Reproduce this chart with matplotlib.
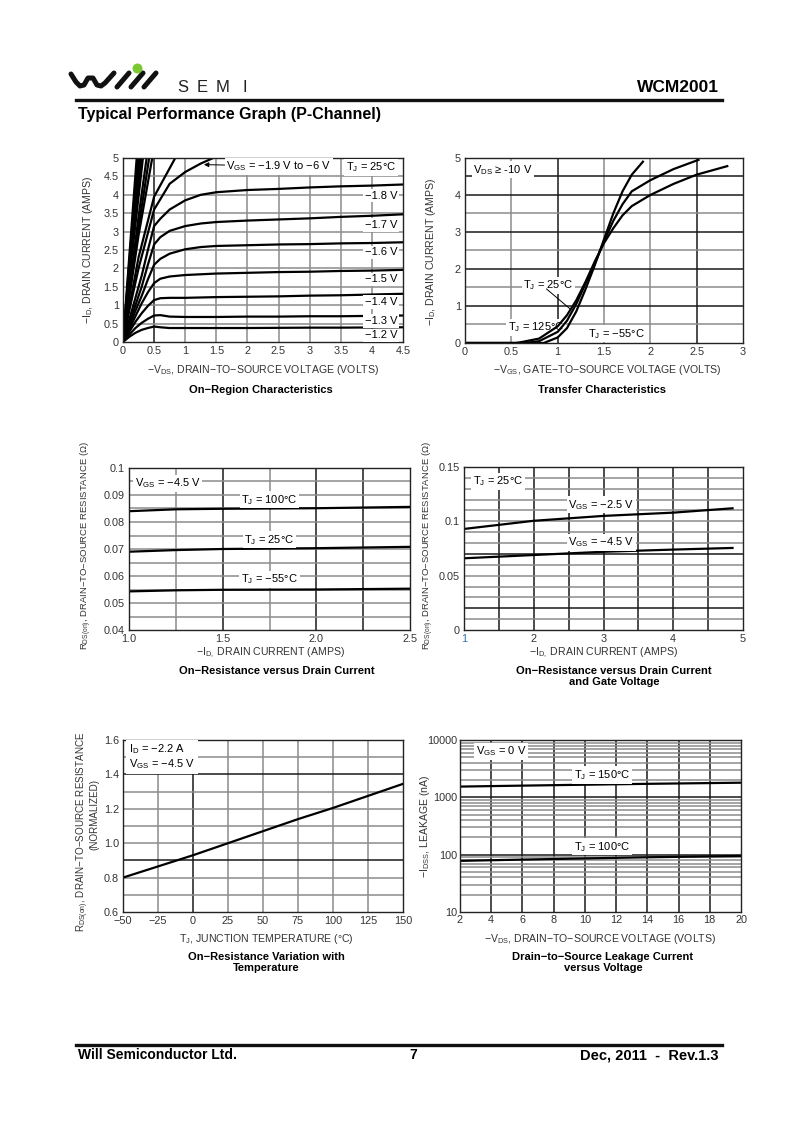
import matplotlib
matplotlib.use('Agg')
import matplotlib.pyplot as plt
from matplotlib import font_manager
import numpy as np

names = {f.name for f in font_manager.fontManager.ttflist}
NARROW = 'Liberation Sans Narrow' if 'Liberation Sans Narrow' in names else 'Liberation Sans'
plt.rcParams['font.family'] = ['Liberation Sans', 'DejaVu Sans']
plt.rcParams['mathtext.fontset'] = 'custom'
plt.rcParams['mathtext.rm'] = 'Liberation Sans'
plt.rcParams['mathtext.it'] = 'Liberation Sans:italic'
plt.rcParams['mathtext.bf'] = 'Liberation Sans:bold'

# ---- data: on-region characteristics (-VDS vs -ID) ----
vds = [0, 0.1, 0.2, 0.3, 0.4, 0.5, 0.6, 0.75, 1.0, 1.25, 1.5, 2.0, 2.5, 3.0, 3.5, 4.0, 4.5]
id_12 = [0, 0.14, 0.25, 0.33, 0.38, 0.42, 0.40, 0.38, 0.38, 0.38, 0.38, 0.38, 0.385, 0.39, 0.39, 0.395, 0.40]
id_13 = [0, 0.20, 0.38, 0.52, 0.63, 0.72, 0.73, 0.69, 0.68, 0.68, 0.68, 0.69, 0.69, 0.70, 0.70, 0.71, 0.72]
id_14 = [0, 0.28, 0.55, 0.78, 0.98, 1.14, 1.19, 1.20, 1.20, 1.21, 1.22, 1.23, 1.24, 1.26, 1.27, 1.29, 1.31]
id_15 = [0, 0.35, 0.70, 1.05, 1.35, 1.60, 1.72, 1.78, 1.82, 1.84, 1.86, 1.88, 1.90, 1.91, 1.93, 1.94, 1.96]
id_16 = [0, 0.42, 0.85, 1.25, 1.70, 2.10, 2.26, 2.40, 2.52, 2.58, 2.61, 2.63, 2.65, 2.66, 2.68, 2.69, 2.71]
id_17 = [0, 0.50, 1.00, 1.50, 2.10, 2.65, 2.85, 3.02, 3.15, 3.22, 3.26, 3.30, 3.33, 3.36, 3.40, 3.43, 3.47]
id_18 = [0, 0.60, 1.20, 1.80, 2.50, 3.15, 3.35, 3.60, 3.85, 4.00, 4.07, 4.13, 4.16, 4.20, 4.23, 4.25, 4.28]
sat_curves = [id_12, id_13, id_14, id_15, id_16, id_17, id_18]
sat_labels = ['−1.2 V', '−1.3 V', '−1.4 V', '−1.5 V', '−1.6 V', '−1.7 V', '−1.8 V']
sat_label_y = [0.18, 0.57, 1.09, 1.70, 2.44, 3.18, 3.98]

vds_19 = [0, 0.1, 0.25, 0.5, 0.75, 1.0, 1.25, 1.45]
id_19 = [0, 0.85, 2.0, 3.6, 4.3, 4.62, 4.85, 5.0]
steep_x = [[0, 0.1, 0.25, 0.5, 0.84],
           [0, 0.1, 0.25, 0.47],
           [0, 0.1, 0.25, 0.42],
           [0, 0.1, 0.25, 0.38],
           [0, 0.1, 0.32], [0, 0.1, 0.30], [0, 0.1, 0.28],
           [0, 0.1, 0.26], [0, 0.1, 0.24], [0, 0.1, 0.22]]
steep_y = [[0, 0.95, 2.3, 3.95, 5.0],
           [0, 1.2, 2.9, 5.0],
           [0, 1.3, 3.1, 5.0],
           [0, 1.4, 3.4, 5.0],
           [0, 1.7, 5.0], [0, 1.8, 5.0], [0, 1.9, 5.0],
           [0, 2.0, 5.0], [0, 2.15, 5.0], [0, 2.3, 5.0]]

# ---- data: transfer characteristics ----
vgs_125 = [0, 0.55, 0.6, 0.8, 1.0, 1.1, 1.2, 1.3, 1.4, 1.5, 1.6, 1.7, 1.8, 2.0, 2.25, 2.5, 2.83]
id_125 = [0, 0, 0.02, 0.12, 0.45, 0.75, 1.15, 1.65, 2.2, 2.7, 3.1, 3.45, 3.7, 4.0, 4.3, 4.55, 4.78]
vgs_25 = [0, 0.65, 0.8, 1.0, 1.1, 1.2, 1.3, 1.4, 1.5, 1.6, 1.7, 1.8, 2.0, 2.25, 2.52]
id_25 = [0, 0, 0.05, 0.3, 0.6, 1.05, 1.6, 2.15, 2.75, 3.3, 3.75, 4.1, 4.4, 4.7, 4.95]
vgs_m55 = [0, 0.85, 1.0, 1.1, 1.2, 1.3, 1.4, 1.5, 1.6, 1.7, 1.8, 1.92]
id_m55 = [0, 0, 0.15, 0.4, 0.85, 1.45, 2.1, 2.8, 3.5, 4.1, 4.55, 4.9]

# ---- data: on-resistance vs drain current (temperature) ----
id_r = [1.0, 1.25, 1.5, 2.0, 2.5]
r_100 = [0.0840, 0.0847, 0.0849, 0.0851, 0.0856]
r_25 = [0.0690, 0.0696, 0.0700, 0.0703, 0.0708]
r_m55 = [0.0543, 0.0547, 0.0549, 0.0550, 0.0553]

# ---- data: on-resistance vs drain current and gate voltage ----
id_g = [1, 2, 3, 4, 4.85]
r_vgs25 = [0.093, 0.1005, 0.105, 0.108, 0.112]
r_vgs45 = [0.066, 0.069, 0.072, 0.074, 0.0755]

# ---- data: normalized on-resistance vs temperature ----
tj = [-50, -25, 0, 25, 50, 75, 100, 125, 150]
rn = [0.80, 0.865, 0.93, 1.0, 1.07, 1.14, 1.205, 1.275, 1.345]

# ---- data: leakage vs voltage ----
vds_l = [2, 6, 10, 14, 20]
idss_150 = [1540, 1600, 1660, 1720, 1800]
idss_100 = [78, 82, 86, 90, 95]

W, H = 800, 1132
fig = plt.figure(figsize=(W / 100, H / 100), dpi=100)

# page overlay in pixel coordinates (header, footer, logo)
pg = fig.add_axes([0, 0, 1, 1])
pg.set_xlim(0, W)
pg.set_ylim(H, 0)
pg.axis('off')

wave_x = [71, 76, 80, 84, 88, 93, 97, 101, 105, 114]
wave_y = [74, 82, 86, 85, 78, 78, 85, 86, 83, 73]
pg.plot(wave_x, wave_y, color='#111', lw=3.6, solid_capstyle='round', solid_joinstyle='round')
for sx in (117, 131, 144):
    pg.plot([sx, sx + 12], [87, 73], color='#111', lw=3.6, solid_capstyle='round')
pg.scatter([137], [68], s=38, color='#7cc832', zorder=5)
for ch, x in zip('SEMI', [177, 197, 216, 242]):
    pg.text(x, 87, ch, fontsize=12, color='#222', va='center', ha='left')
pg.text(719, 88, 'WCM2001', fontsize=12.5, fontweight='bold', family=NARROW, ha='right', va='center')
pg.plot([76, 722], [99.5, 99.5], color='#111', lw=2.4)
pg.text(78, 114, 'Typical Performance Graph (P-Channel)', fontsize=11.5, fontweight='bold',
        family=NARROW, ha='left', va='center')
pg.plot([76, 722], [1044.5, 1044.5], color='#111', lw=2.4)
pg.text(78, 1055, 'Will Semiconductor Ltd.', fontsize=10, fontweight='bold', family=NARROW, va='center')
pg.text(413, 1055, '7', fontsize=10, fontweight='bold', family=NARROW, va='center', ha='center')
pg.text(718, 1055, 'Dec, 2011  -  Rev.1.3', fontsize=10.5, fontweight='bold', family=NARROW,
        va='center', ha='right')

GRAY = '#8c8c8c'
DARK = '#1a1a1a'
WB = dict(facecolor='white', edgecolor='none', pad=1.2)


def panel(l, t, r, b, xlim, ylim, xticks, xlabels, yticks, ylabels,
          vgrid, hgrid, dark_v=(), dark_h=(), logy=False):
    ax = fig.add_axes([l / W, 1 - b / H, (r - l) / W, (b - t) / H])
    if logy:
        ax.set_yscale('log')
    ax.set_xlim(xlim)
    ax.set_ylim(ylim)
    for v in vgrid:
        dk = any(np.isclose(v, d) for d in dark_v)
        ax.axvline(v, color=DARK if dk else GRAY, lw=1.1, zorder=1)
    for h in hgrid:
        dk = any(np.isclose(h, d) for d in dark_h)
        ax.axhline(h, color=DARK if dk else GRAY, lw=1.1, zorder=1)
    ax.set_xticks(xticks, xlabels)
    ax.set_yticks(yticks, ylabels)
    ax.minorticks_off()
    ax.tick_params(length=0, labelsize=7.8, labelcolor='#333', pad=3)
    for s in ax.spines.values():
        s.set_color('#222')
        s.set_linewidth(1.0)
    return ax


def fig_label(x, y, s, rot=0, size=7.6, **kw):
    pg.text(x, y, s, fontsize=size, color='#333', ha='center', va='center', rotation=rot, **kw)


def caption(x, y, s):
    pg.text(x, y, s, fontsize=8, fontweight='bold', ha='center', va='top', linespacing=1.15)


LW = 1.6

# ---------- 1: on-region ----------
ax1 = panel(123, 158, 403, 342, (0, 4.5), (0, 5),
            [0, 0.5, 1, 1.5, 2, 2.5, 3, 3.5, 4, 4.5],
            ['0', '0.5', '1', '1.5', '2', '2.5', '3', '3.5', '4', '4.5'],
            [0, 0.5, 1, 1.5, 2, 2.5, 3, 3.5, 4, 4.5, 5],
            ['0', '0.5', '1', '1.5', '2', '2.5', '3', '3.5', '4', '4.5', '5'],
            [0.5, 1, 1.5, 2, 2.5, 3, 3.5, 4], [0.5, 1, 1.5, 2, 2.5, 3, 3.5, 4, 4.5],
            dark_v=(0.5,))
for cur in sat_curves:
    ax1.plot(vds, cur, color='k', lw=LW, zorder=2)
ax1.plot(vds_19, id_19, color='k', lw=LW, zorder=2)
for xs, ys in zip(steep_x, steep_y):
    ax1.plot(xs, ys, color='k', lw=LW, zorder=2)
for lab, y in zip(sat_labels, sat_label_y):
    ax1.text(4.15, y, lab, fontsize=8, ha='center', va='center', bbox=WB, zorder=3)
ax1.text(3.99, 4.75, 'T$_\\mathrm{J}$ = 25°C', fontsize=8, ha='center', va='center', bbox=WB, zorder=3)
ax1.annotate('V$_\\mathrm{GS}$ = −1.9 V to −6 V', xy=(1.3, 4.82), xytext=(1.66, 4.78),
             fontsize=8, ha='left', va='center', bbox=WB, zorder=3,
             arrowprops=dict(arrowstyle='-|>', color='k', lw=0.7, mutation_scale=7,
                             shrinkA=0, shrinkB=0))
fig_label(263, 370, '−V$_\\mathrm{DS}$, DRAIN−TO−SOURCE VOLTAGE (VOLTS)')
fig_label(88, 250, '−I$_\\mathrm{D}$, DRAIN CURRENT (AMPS)', rot=90)
caption(261, 385, 'On−Region Characteristics')

# ---------- 2: transfer ----------
ax2 = panel(465, 158, 743, 343, (0, 3), (0, 5),
            [0, 0.5, 1, 1.5, 2, 2.5, 3], ['0', '0.5', '1', '1.5', '2', '2.5', '3'],
            [0, 1, 2, 3, 4, 5], ['0', '1', '2', '3', '4', '5'],
            [0.5, 1, 1.5, 2, 2.5], [0.5, 1, 1.5, 2, 2.5, 3, 3.5, 4, 4.5],
            dark_v=(1, 2.5), dark_h=(1, 2, 3, 4, 4.5))
ax2.text(0.09, 4.68, 'V$_\\mathrm{DS}$ ≥ -10 V', fontsize=8, ha='left', va='center', bbox=WB, zorder=3)
ax2.text(0.63, 1.56, 'T$_\\mathrm{J}$ = 25°C', fontsize=8, ha='left', va='center', bbox=WB, zorder=1.5)
ax2.text(0.46, 0.43, 'T$_\\mathrm{J}$ = 125°C', fontsize=8, ha='left', va='center', bbox=WB, zorder=1.5)
ax2.text(1.33, 0.25, 'T$_\\mathrm{J}$ = −55°C', fontsize=8, ha='left', va='center', bbox=WB, zorder=1.5)
ax2.plot([0.88, 1.13], [1.46, 0.93], color='k', lw=0.7, zorder=2)
ax2.plot(vgs_125, id_125, color='k', lw=LW, zorder=2)
ax2.plot(vgs_25, id_25, color='k', lw=LW, zorder=2)
ax2.plot(vgs_m55, id_m55, color='k', lw=LW, zorder=2)
fig_label(607, 370, '−V$_\\mathrm{GS}$, GATE−TO−SOURCE VOLTAGE (VOLTS)')
fig_label(431, 252, '−I$_\\mathrm{D}$, DRAIN CURRENT (AMPS)', rot=90)
caption(602, 385, 'Transfer Characteristics')

# ---------- 3: RDS(on) vs ID, temperature ----------
ax3 = panel(129, 468, 410, 630, (1.0, 2.5), (0.04, 0.1),
            [1.0, 1.5, 2.0, 2.5], ['1.0', '1.5', '2.0', '2.5'],
            [0.04, 0.05, 0.06, 0.07, 0.08, 0.09, 0.1],
            ['0.04', '0.05', '0.06', '0.07', '0.08', '0.09', '0.1'],
            [1.25, 1.5, 1.75, 2.0, 2.25],
            [0.045, 0.05, 0.055, 0.06, 0.065, 0.07, 0.075, 0.08, 0.085, 0.09, 0.095],
            dark_v=(1.5, 2.0, 2.25))
ax3.plot(id_r, r_100, color='k', lw=LW, zorder=2)
ax3.plot(id_r, r_25, color='k', lw=LW, zorder=2)
ax3.plot(id_r, r_m55, color='k', lw=LW, zorder=2)
ax3.text(1.03, 0.0944, 'V$_\\mathrm{GS}$ = −4.5 V', fontsize=8, ha='left', va='center', bbox=WB, zorder=3)
ax3.text(1.75, 0.0882, 'T$_\\mathrm{J}$ = 100°C', fontsize=8, ha='center', va='center', bbox=WB, zorder=3)
ax3.text(1.75, 0.0734, 'T$_\\mathrm{J}$ = 25°C', fontsize=8, ha='center', va='center', bbox=WB, zorder=3)
ax3.text(1.75, 0.0588, 'T$_\\mathrm{J}$ = −55°C', fontsize=8, ha='center', va='center', bbox=WB, zorder=3)
fig_label(270, 653, '−I$_\\mathrm{D,}$ DRAIN CURRENT (AMPS)')
fig_label(86, 546, 'R$_\\mathrm{DS(on)}$, DRAIN−TO−SOURCE RESISTANCE (Ω)', rot=90, size=6.8)
caption(277, 666, 'On−Resistance versus Drain Current')

# ---------- 4: RDS(on) vs ID, gate voltage ----------
ax4 = panel(464, 467, 743, 630, (1, 5), (0, 0.15),
            [1, 2, 3, 4, 5], ['1', '2', '3', '4', '5'],
            [0, 0.05, 0.1, 0.15], ['0', '0.05', '0.1', '0.15'],
            [1.5, 2, 2.5, 3, 3.5, 4, 4.5],
            [0.01, 0.02, 0.03, 0.04, 0.05, 0.06, 0.07, 0.08, 0.09, 0.1, 0.11, 0.12, 0.13, 0.14],
            dark_v=(1.5, 2, 2.5, 3, 3.5, 4, 4.5), dark_h=(0.02, 0.07))
ax4.get_xticklabels()[0].set_color('#2f6db5')
ax4.plot(id_g, r_vgs25, color='k', lw=LW, zorder=2)
ax4.plot(id_g, r_vgs45, color='k', lw=LW, zorder=2)
ax4.text(1.13, 0.137, 'T$_\\mathrm{J}$ = 25°C', fontsize=8, ha='left', va='center', bbox=WB, zorder=3)
ax4.text(2.97, 0.1153, 'V$_\\mathrm{GS}$ = −2.5 V', fontsize=8, ha='center', va='center', bbox=WB, zorder=3)
ax4.text(2.97, 0.0805, 'V$_\\mathrm{GS}$ = −4.5 V', fontsize=8, ha='center', va='center', bbox=WB, zorder=3)
fig_label(603, 653, '−I$_\\mathrm{D,}$ DRAIN CURRENT (AMPS)')
fig_label(428, 546, 'R$_\\mathrm{DS(on)}$, DRAIN−TO−SOURCE RESISTANCE (Ω)', rot=90, size=6.8)
caption(614, 666, 'On−Resistance versus Drain Current\nand Gate Voltage')

# ---------- 5: normalized RDS(on) vs TJ ----------
ax5 = panel(123, 740, 403, 912, (-50, 150), (0.6, 1.6),
            [-50, -25, 0, 25, 50, 75, 100, 125, 150],
            ['−50', '−25', '0', '25', '50', '75', '100', '125', '150'],
            [0.6, 0.8, 1.0, 1.2, 1.4, 1.6], ['0.6', '0.8', '1.0', '1.2', '1.4', '1.6'],
            [-25, 0, 25, 50, 75, 100, 125],
            [0.7, 0.8, 0.9, 1.0, 1.1, 1.2, 1.3, 1.4, 1.5],
            dark_v=(0,), dark_h=(0.9, 1.4))
ax5.plot(tj, rn, color='k', lw=LW, zorder=2)
ax5.text(-46, 1.503, 'I$_\\mathrm{D}$ = −2.2 A\nV$_\\mathrm{GS}$ = −4.5 V', fontsize=8, ha='left',
         va='center', linespacing=1.05, bbox=dict(facecolor='white', edgecolor='none', pad=2), zorder=3)
fig_label(266, 939, 'T$_\\mathrm{J}$, JUNCTION TEMPERATURE (°C)')
fig_label(83, 832, 'R$_\\mathrm{DS(on)}$, DRAIN−TO−SOURCE RESISTANCE', rot=90, size=7.1)
fig_label(94, 814, '(NORMALIZED)', rot=90, size=7.1)
caption(266, 952, 'On−Resistance Variation with\nTemperature')

# ---------- 6: leakage ----------
minor_h = [k * 10 ** d for d in (1, 2, 3) for k in range(2, 10)] + [100, 1000]
ax6 = panel(460, 740, 741, 912, (2, 20), (10, 10000),
            [2, 4, 6, 8, 10, 12, 14, 16, 18, 20],
            ['2', '4', '6', '8', '10', '12', '14', '16', '18', '20'],
            [10, 100, 1000, 10000], ['10', '100', '1000', '10000'],
            [4, 6, 8, 10, 12, 14, 16, 18], minor_h,
            dark_v=(4, 6, 8, 10, 12, 14, 16, 18), dark_h=(100, 1000), logy=True)
ax6.tick_params(pad=2)
ax6.plot(vds_l, idss_150, color='k', lw=LW, zorder=2)
ax6.plot(vds_l, idss_100, color='k', lw=LW, zorder=2)
ax6.text(3.0, 6400, 'V$_\\mathrm{GS}$ = 0 V', fontsize=8, ha='left', va='center', bbox=WB, zorder=3)
ax6.text(11.1, 2450, 'T$_\\mathrm{J}$ = 150°C', fontsize=8, ha='center', va='center', bbox=WB, zorder=3)
ax6.text(11.1, 137, 'T$_\\mathrm{J}$ = 100°C', fontsize=8, ha='center', va='center', bbox=WB, zorder=3)
fig_label(600, 939, '−V$_\\mathrm{DS}$, DRAIN−TO−SOURCE VOLTAGE (VOLTS)')
fig_label(425, 826, '−I$_\\mathrm{DSS}$, LEAKAGE (nA)', rot=90)
caption(603, 952, 'Drain−to−Source Leakage Current\nversus Voltage')

fig.savefig('out.png', dpi=100)
